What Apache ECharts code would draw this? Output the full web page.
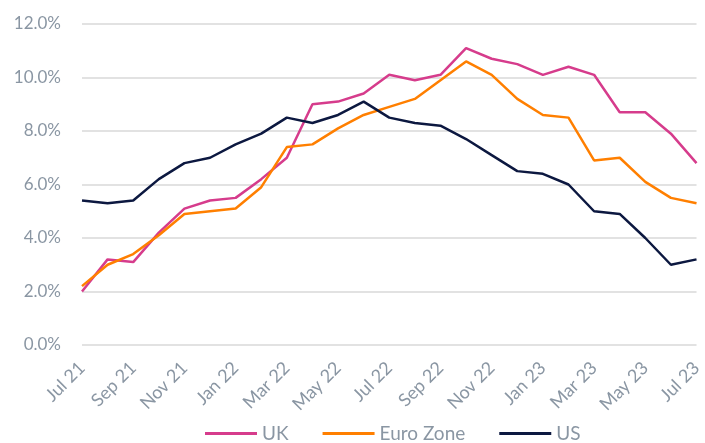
<!DOCTYPE html>
<html>
<head>
<meta charset="utf-8">
<script src="https://cdn.jsdelivr.net/npm/echarts@6/dist/echarts.min.js"></script>
<style>
  html, body { margin: 0; padding: 0; background: #fff; }
  #chart { width: 705px; height: 443px; }
</style>
</head>
<body>
<div id="chart"></div>
<script>
// months Jul 21 .. Jul 23
const months = ['Jul 21','Aug 21','Sep 21','Oct 21','Nov 21','Dec 21','Jan 22','Feb 22','Mar 22','Apr 22','May 22','Jun 22',
  'Jul 22','Aug 22','Sep 22','Oct 22','Nov 22','Dec 22','Jan 23','Feb 23','Mar 23','Apr 23','May 23','Jun 23','Jul 23'];
const uk = [2.0,3.2,3.1,4.2,5.1,5.4,5.5,6.2,7.0,9.0,9.1,9.4,10.1,9.9,10.1,11.1,10.7,10.5,10.1,10.4,10.1,8.7,8.7,7.9,6.8];
const euroZone = [2.2,3.0,3.4,4.1,4.9,5.0,5.1,5.9,7.4,7.5,8.1,8.6,8.9,9.2,9.9,10.6,10.1,9.2,8.6,8.5,6.9,7.0,6.1,5.5,5.3];
const us = [5.4,5.3,5.4,6.2,6.8,7.0,7.5,7.9,8.5,8.3,8.6,9.1,8.5,8.3,8.2,7.7,7.1,6.5,6.4,6.0,5.0,4.9,4.0,3.0,3.2];

const textColor = '#8a96a3';
const font = 'Lato, "Open Sans", sans-serif';

var myChart = echarts.init(document.getElementById('chart'));

function line(name, data, color) {
  return {
    name: name,
    type: 'line',
    data: data,
    symbol: 'none',
    lineStyle: { color: color, width: 2.5 },
    itemStyle: { color: color }
  };
}

myChart.setOption({
  animation: false,
  grid: { left: 82, right: 2, top: 24, bottom: 98 },
  legend: {
    left: 205,
    top: 424,
    padding: 0,
    icon: 'rect',
    itemWidth: 52,
    itemHeight: 3,
    itemGap: 34,
    textStyle: { color: textColor, fontSize: 19, fontFamily: font },
    data: ['UK', 'Euro Zone', 'US']
  },
  xAxis: {
    type: 'category',
    data: months,
    boundaryGap: false,
    axisLine: { show: false },
    axisTick: { show: false },
    axisLabel: {
      interval: 1,
      rotate: 45,
      color: textColor,
      fontSize: 18,
      fontFamily: font,
      margin: 20
    }
  },
  yAxis: {
    type: 'value',
    min: 0,
    max: 12,
    interval: 2,
    axisLine: { show: false },
    axisTick: { show: false },
    splitLine: { lineStyle: { color: '#d9d9d9', width: 1.5 } },
    axisLabel: {
      color: textColor,
      fontSize: 17,
      fontFamily: font,
      margin: 21,
      formatter: function (v) { return v.toFixed(1) + '%'; }
    }
  },
  series: [
    line('UK', uk, '#d63c8c'),
    line('Euro Zone', euroZone, '#ff7f00'),
    line('US', us, '#0c1840')
  ]
});
</script>
</body>
</html>
